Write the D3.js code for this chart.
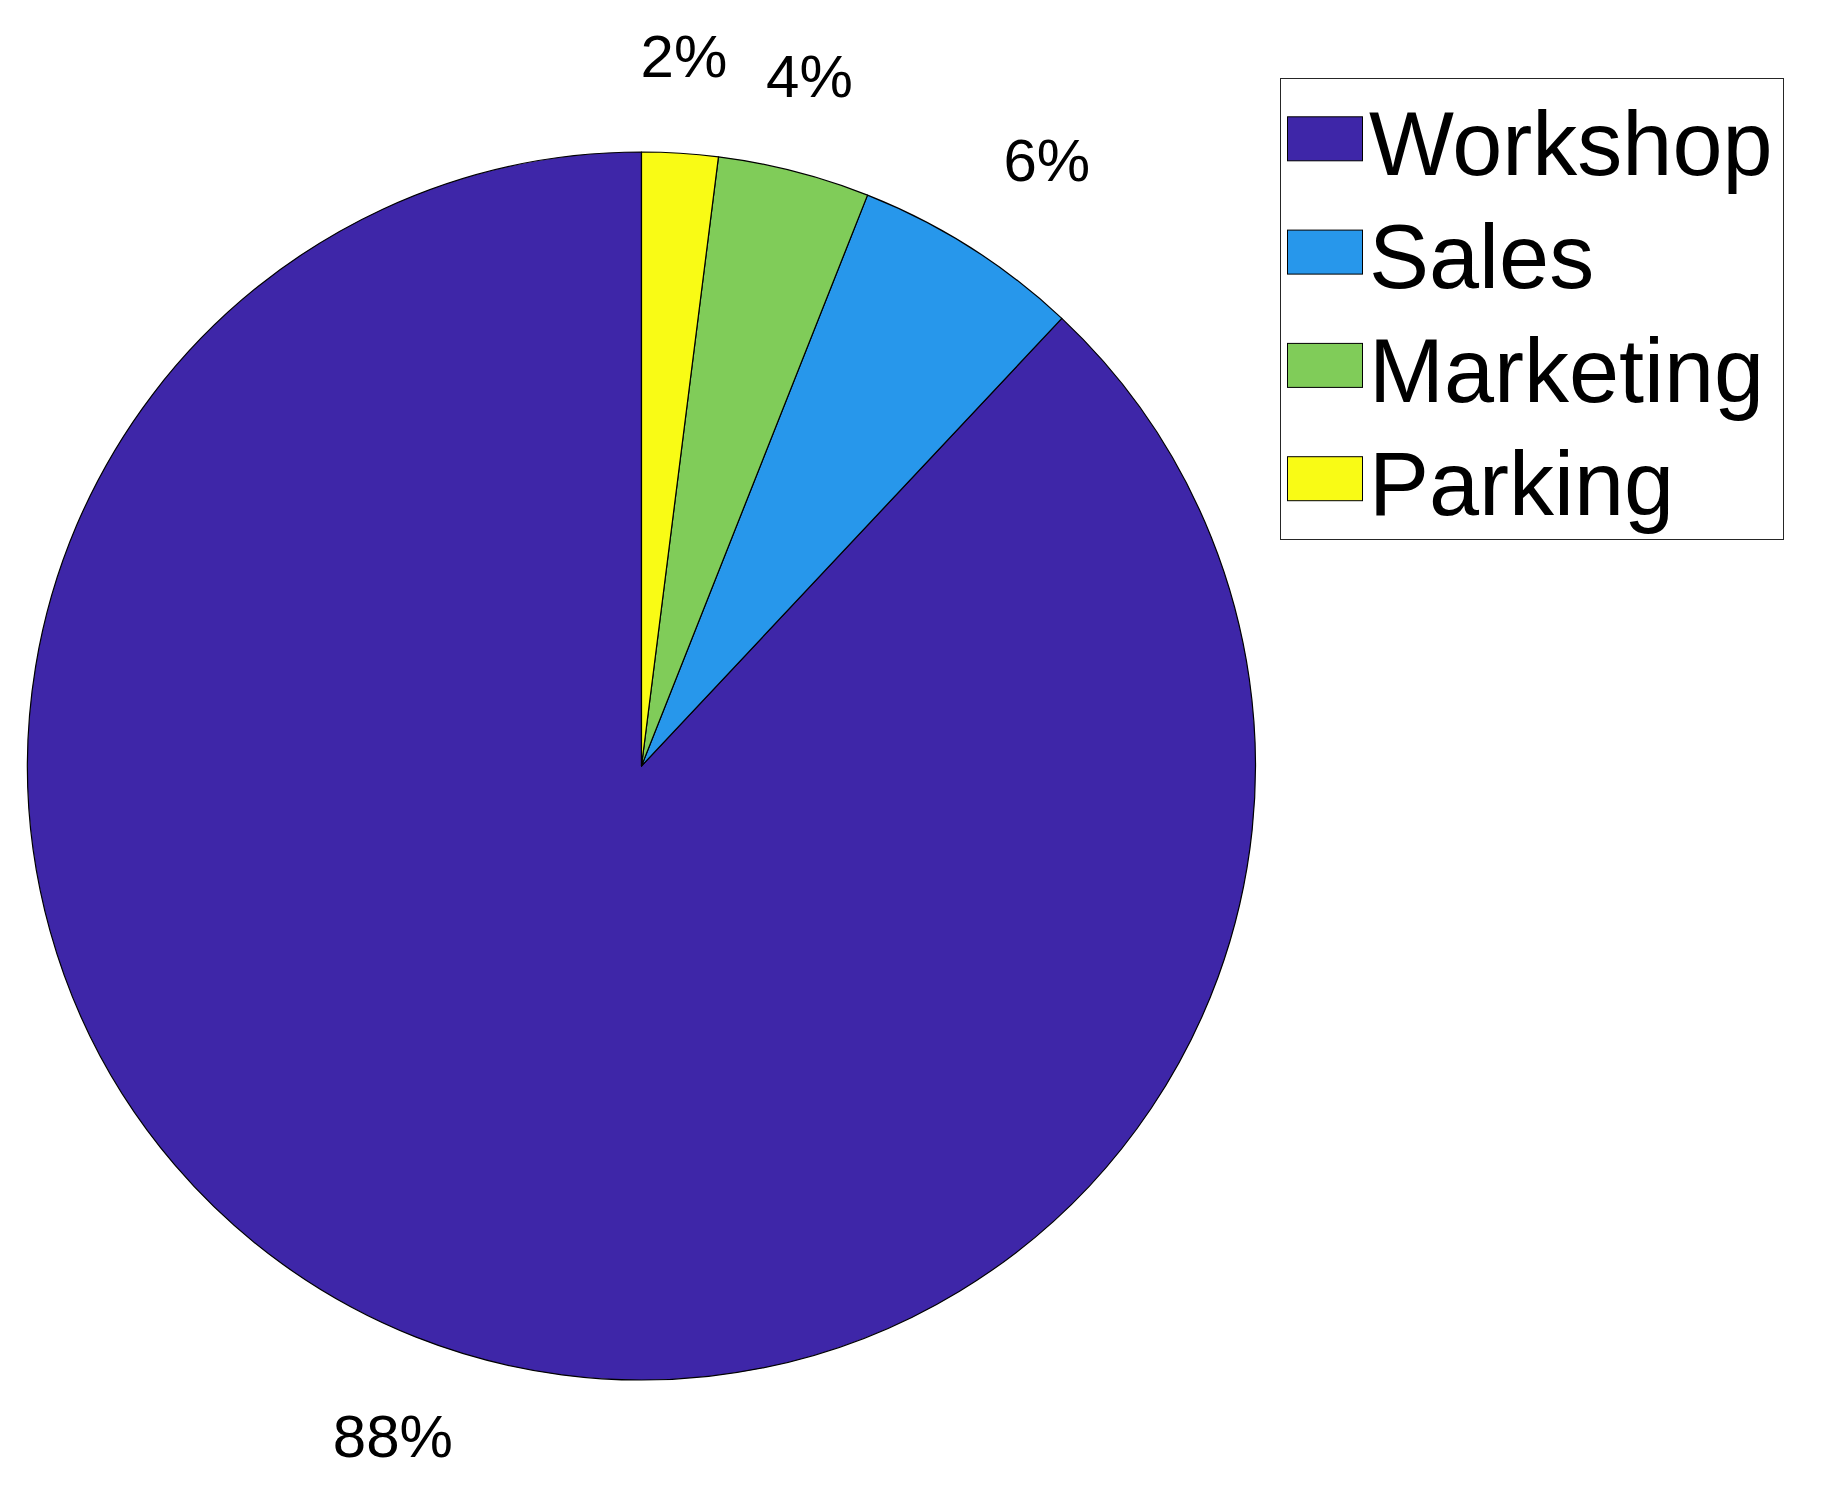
<!DOCTYPE html>
<html>
<head>
<meta charset="utf-8">
<script src="https://cdn.jsdelivr.net/npm/d3@7"></script>
<style>
  html, body { margin: 0; padding: 0; background: #ffffff; }
  svg { display: block; }
  text { font-family: "Liberation Sans", Arial, Helvetica, sans-serif; fill: #000; }
</style>
</head>
<body>
<script>
// ---- data ----
const categories = ["Workshop", "Sales", "Marketing", "Parking"];
const values = [88, 6, 4, 2];
const colors = ["#3E26A8", "#2797EB", "#80CC59", "#F9FB15"];
const percentLabels = ["88%", "6%", "4%", "2%"];

// ---- layout ----
const W = 1822, H = 1490;
const cx = 641.5, cy = 766, R = 614;

const svg = d3.select("body").append("svg")
  .attr("width", W).attr("height", H);

const pie = d3.pie().sort(null).value(d => d)
  .startAngle(0).endAngle(-2 * Math.PI);
const arcs = pie(values);

const arc = d3.arc().innerRadius(0).outerRadius(R);
const labelArc = d3.arc().innerRadius(R * 1.1).outerRadius(R * 1.1);

const g = svg.append("g").attr("transform", `translate(${cx},${cy})`);

g.selectAll("path.slice").data(arcs).enter().append("path")
  .attr("class", "slice")
  .attr("d", arc)
  .attr("fill", (d, i) => colors[i])
  .attr("stroke", "#000")
  .attr("stroke-width", 1.2)
  .attr("stroke-linejoin", "round");

g.selectAll("text.pct").data(arcs).enter().append("text")
  .attr("class", "pct")
  .attr("x", d => labelArc.centroid(d)[0])
  .attr("y", d => labelArc.centroid(d)[1])
  .attr("dy", d => labelArc.centroid(d)[1] < 0 ? "-0.25em" : "1.05em")
  .attr("text-anchor", d => {
    const m = (d.startAngle + d.endAngle) / 2;
    const s = Math.sin(m);
    return s > 0.5 ? "start" : (s < -0.5 ? "end" : "middle");
  })
  .style("font-size", "60px")
  .text((d, i) => percentLabels[i]);

// ---- legend ----
const lg = svg.append("g").attr("class", "legend");
lg.append("rect")
  .attr("x", 1280.5).attr("y", 78.5)
  .attr("width", 503).attr("height", 461)
  .attr("fill", "#fff").attr("stroke", "#262626").attr("stroke-width", 1);

const rowY = d3.scaleLinear().domain([0, 1]).range([138.8, 252.1]);
categories.forEach((c, i) => {
  const y = rowY(i);
  lg.append("rect")
    .attr("x", 1287.5).attr("y", y - 22)
    .attr("width", 75).attr("height", 44)
    .attr("fill", colors[i]).attr("stroke", "#000").attr("stroke-width", 1);
  lg.append("text")
    .attr("x", 1369).attr("y", y + 36.3)
    .style("font-size", "90px")
    .text(c);
});
</script>
</body>
</html>
